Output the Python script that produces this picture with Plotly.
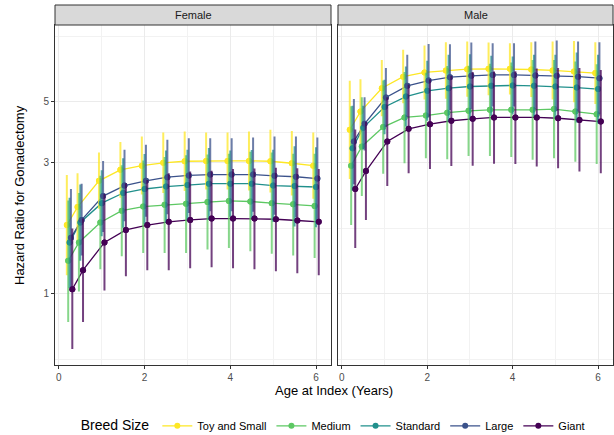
import plotly.graph_objects as go

# ---------------- data ----------------
ages = [0.25, 0.5, 1, 1.5, 2, 2.5, 3, 3.5, 4, 4.5, 5, 5.5, 6]
breeds = ["Toy and Small", "Medium", "Standard", "Large", "Giant"]
sexes = ["Female", "Male"]
x_ticks = [0, 2, 4, 6]
y_ticks = [1, 3, 5]

# Female
toy_f = [1.78, 2.07, 2.58, 2.83, 2.93, 3.00, 3.04, 3.05, 3.05, 3.05, 3.04, 2.99, 2.93]
toy_f_lo = [1.17, 1.56, 2.04, 2.24, 2.30, 2.33, 2.37, 2.40, 2.40, 2.38, 2.34, 2.28, 2.22]
toy_f_hi = [2.71, 2.75, 3.27, 3.57, 3.74, 3.87, 3.90, 3.87, 3.87, 3.90, 3.96, 3.92, 3.87]

med_f = [1.32, 1.54, 1.82, 2.01, 2.08, 2.11, 2.13, 2.16, 2.18, 2.17, 2.14, 2.12, 2.09]
med_f_lo = [0.79, 1.02, 1.23, 1.37, 1.41, 1.41, 1.41, 1.45, 1.47, 1.43, 1.40, 1.38, 1.35]
med_f_hi = [2.19, 2.33, 2.69, 2.94, 3.06, 3.15, 3.20, 3.22, 3.24, 3.29, 3.27, 3.24, 3.24]

std_f = [1.54, 1.82, 2.14, 2.33, 2.41, 2.46, 2.49, 2.52, 2.52, 2.52, 2.48, 2.47, 2.45]
std_f_lo = [1.05, 1.32, 1.62, 1.74, 1.79, 1.82, 1.86, 1.86, 1.91, 1.89, 1.83, 1.76, 1.75]
std_f_hi = [2.24, 2.50, 2.82, 3.12, 3.23, 3.33, 3.35, 3.40, 3.33, 3.34, 3.35, 3.45, 3.42]

lrg_f = [1.60, 1.86, 2.27, 2.48, 2.58, 2.66, 2.70, 2.72, 2.72, 2.72, 2.69, 2.67, 2.63]
lrg_f_lo = [1.06, 1.38, 1.68, 1.84, 1.91, 1.95, 1.97, 2.00, 2.00, 1.99, 1.94, 1.90, 1.87]
lrg_f_hi = [2.41, 2.52, 3.05, 3.35, 3.49, 3.64, 3.69, 3.69, 3.69, 3.71, 3.74, 3.74, 3.71]

gnt_f = [1.04, 1.22, 1.54, 1.71, 1.78, 1.83, 1.86, 1.88, 1.88, 1.88, 1.87, 1.85, 1.83]
gnt_f_lo = [0.63, 0.79, 1.03, 1.16, 1.22, 1.22, 1.24, 1.25, 1.24, 1.23, 1.21, 1.19, 1.17]
gnt_f_hi = [1.73, 1.88, 2.31, 2.53, 2.60, 2.75, 2.79, 2.81, 2.85, 2.86, 2.88, 2.87, 2.85]

# Male
toy_m = [3.96, 4.61, 5.61, 6.18, 6.40, 6.51, 6.58, 6.60, 6.60, 6.56, 6.51, 6.45, 6.37]
toy_m_lo = [2.62, 3.52, 4.43, 4.94, 5.10, 5.13, 5.22, 5.29, 5.32, 5.21, 5.10, 4.99, 4.91]
toy_m_hi = [5.97, 6.05, 7.11, 7.74, 8.02, 8.25, 8.29, 8.23, 8.18, 8.25, 8.29, 8.34, 8.25]

med_m = [2.93, 3.44, 4.05, 4.39, 4.46, 4.57, 4.64, 4.68, 4.68, 4.68, 4.71, 4.61, 4.51]
med_m_lo = [1.78, 2.27, 2.74, 2.99, 3.12, 3.09, 3.18, 3.18, 3.15, 3.08, 3.12, 3.03, 2.97]
med_m_hi = [4.82, 5.20, 5.98, 6.43, 6.38, 6.76, 6.77, 6.88, 6.96, 7.11, 7.10, 7.01, 6.86]

std_m = [3.39, 4.03, 4.79, 5.23, 5.49, 5.61, 5.69, 5.72, 5.74, 5.72, 5.69, 5.64, 5.57]
std_m_lo = [2.38, 3.36, 3.81, 4.07, 4.27, 4.24, 4.33, 4.45, 4.50, 4.41, 4.36, 4.21, 4.17]
std_m_hi = [4.84, 4.84, 6.02, 6.73, 7.06, 7.42, 7.46, 7.36, 7.32, 7.42, 7.42, 7.56, 7.42]

lrg_m = [3.59, 4.16, 5.19, 5.72, 5.98, 6.15, 6.22, 6.27, 6.27, 6.24, 6.22, 6.18, 6.10]
lrg_m_lo = [2.51, 3.33, 4.05, 4.41, 4.40, 4.67, 4.71, 4.81, 4.81, 4.69, 4.63, 4.61, 4.51]
lrg_m_hi = [5.12, 5.20, 6.64, 7.42, 8.13, 8.11, 8.23, 8.18, 8.18, 8.29, 8.36, 8.29, 8.25]

gnt_m = [2.41, 2.80, 3.59, 3.99, 4.15, 4.27, 4.34, 4.39, 4.39, 4.39, 4.36, 4.30, 4.24]
gnt_m_lo = [1.47, 1.86, 2.47, 2.75, 2.85, 2.92, 2.93, 2.98, 2.97, 2.91, 2.87, 2.79, 2.75]
gnt_m_hi = [3.97, 4.23, 5.20, 5.78, 6.05, 6.22, 6.42, 6.45, 6.47, 6.61, 6.64, 6.64, 6.54]

female = [(toy_f, toy_f_lo, toy_f_hi), (med_f, med_f_lo, med_f_hi), (std_f, std_f_lo, std_f_hi),
          (lrg_f, lrg_f_lo, lrg_f_hi), (gnt_f, gnt_f_lo, gnt_f_hi)]
male = [(toy_m, toy_m_lo, toy_m_hi), (med_m, med_m_lo, med_m_hi), (std_m, std_m_lo, std_m_hi),
        (lrg_m, lrg_m_lo, lrg_m_hi), (gnt_m, gnt_m_lo, gnt_m_hi)]

# ---------------- style ----------------
colors = ["#FDE725", "#5DC863", "#21908C", "#3B528B", "#440154"]
bar_colors = ["rgba(253,231,37,0.75)", "rgba(93,200,99,0.75)", "rgba(33,144,140,0.75)",
              "rgba(59,82,139,0.75)", "rgba(68,1,84,0.75)"]
dodge = [-0.064, -0.032, 0.0, 0.032, 0.064]
W, H = 614, 435
FONT = "Liberation Sans, Arial, sans-serif"

fig = go.Figure()
panels = [(female, "x", "y"), (male, "x2", "y2")]

# lines first (below the point ranges, like ggplot layer order)
for p, (data, xa, ya) in enumerate(panels):
    for i, (mid, lo, hi) in enumerate(data):
        xs = [a + dodge[i] for a in ages]
        fig.add_trace(go.Scatter(
            x=xs, y=mid, xaxis=xa, yaxis=ya, mode="lines+markers",
            line=dict(color=colors[i], width=1.3),
            marker=dict(color=colors[i], size=6),
            name=breeds[i], legendgroup=breeds[i], showlegend=(p == 0),
            hoverinfo="skip"))

# point ranges
for p, (data, xa, ya) in enumerate(panels):
    for i, (mid, lo, hi) in enumerate(data):
        xs = [a + dodge[i] for a in ages]
        fig.add_trace(go.Scatter(
            x=xs, y=mid, xaxis=xa, yaxis=ya, mode="markers",
            marker=dict(color=colors[i], size=6),
            error_y=dict(type="data", symmetric=False,
                         array=[h - m for h, m in zip(hi, mid)],
                         arrayminus=[m - l for m, l in zip(mid, lo)],
                         color=bar_colors[i], thickness=2, width=0),
            name=breeds[i], legendgroup=breeds[i], showlegend=False))

# ---------------- layout ----------------
x1_dom = [55 / W, 331 / W]
x2_dom = [338 / W, 613 / W]
y_dom = [(H - 364.5) / H, (H - 25) / H]
strip_top = (H - 5) / H

common_x = dict(range=[-0.09, 6.35], tickvals=x_ticks, ticks="outside", ticklen=3,
                tickcolor="#333333", tickfont=dict(size=10, color="#4D4D4D", family=FONT),
                showgrid=True, gridcolor="#EBEBEB", gridwidth=1,
                minor=dict(tickvals=[1, 3, 5], showgrid=True, gridcolor="#F2F2F2", gridwidth=0.6),
                showline=True, mirror=True, linecolor="#333333", linewidth=1, zeroline=False,
                automargin=False)
minor_y = [0.577, 1.732, 3.873, 8.66]
common_y = dict(type="log", range=[-0.257, 0.979], tickvals=y_ticks, ticktext=[str(v) for v in y_ticks],
                showgrid=True, gridcolor="#EBEBEB", gridwidth=1,
                minor=dict(tickvals=minor_y, showgrid=True, gridcolor="#F2F2F2", gridwidth=0.6),
                showline=True, mirror=True, linecolor="#333333", linewidth=1, zeroline=False,
                automargin=False)

fig.update_layout(
    width=W, height=H, margin=dict(l=0, r=0, t=0, b=0, autoexpand=False),
    plot_bgcolor="white", paper_bgcolor="white",
    font=dict(family=FONT, color="#000000"),
    xaxis=dict(domain=x1_dom, anchor="y", **common_x),
    xaxis2=dict(domain=x2_dom, anchor="y2", **common_x),
    yaxis=dict(domain=y_dom, anchor="x", ticks="outside", ticklen=3, tickcolor="#333333",
               tickfont=dict(size=10, color="#4D4D4D", family=FONT), **common_y),
    yaxis2=dict(domain=y_dom, anchor="x2", matches="y", showticklabels=False, ticks="", **common_y),
    legend=dict(orientation="h", x=0.545, xanchor="center", y=0.021, yanchor="middle",
                title=dict(text="Breed Size", font=dict(size=14, family=FONT)),
                font=dict(size=11, family=FONT), itemwidth=30, bgcolor="rgba(0,0,0,0)"),
    showlegend=True,
)

shapes = []
annotations = []
for dom, label in [(x1_dom, sexes[0]), (x2_dom, sexes[1])]:
    shapes.append(dict(type="rect", xref="paper", yref="paper", x0=dom[0], x1=dom[1],
                       y0=y_dom[1], y1=strip_top, fillcolor="#D9D9D9",
                       line=dict(color="#333333", width=1), layer="above"))
    annotations.append(dict(text=label, xref="paper", yref="paper", x=(dom[0] + dom[1]) / 2,
                            y=(y_dom[1] + strip_top) / 2, showarrow=False,
                            font=dict(size=11, color="#1A1A1A", family=FONT),
                            xanchor="center", yanchor="middle"))

annotations.append(dict(text="Age at Index (Years)", xref="paper", yref="paper",
                        x=(55 + 613) / 2 / W, y=(H - 390) / H, showarrow=False,
                        font=dict(size=13, family=FONT), xanchor="center", yanchor="middle"))
annotations.append(dict(text="Hazard Ratio for Gonadectomy", xref="paper", yref="paper",
                        x=19 / W, y=(H - 195) / H, showarrow=False, textangle=-90,
                        font=dict(size=13, family=FONT), xanchor="center", yanchor="middle"))

fig.update_layout(shapes=shapes, annotations=annotations)
fig.write_html("out.html", config={"displayModeBar": False},
               post_script="document.body.style.margin='0';document.body.style.padding='0';"
                           "document.body.style.overflow='hidden';")
